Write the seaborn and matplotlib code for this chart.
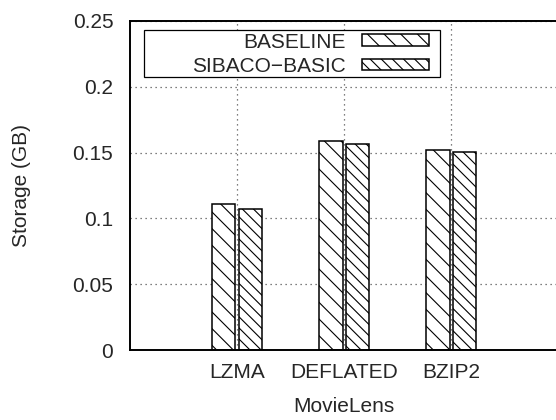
import matplotlib
matplotlib.use("Agg")
import matplotlib.pyplot as plt
from matplotlib.patches import Rectangle
import seaborn as sns
import pandas as pd
import numpy as np

categories = ["LZMA", "DEFLATED", "BZIP2"]
series = ["BASELINE", "SIBACO\u2212BASIC"]
baseline = [0.1112, 0.1586, 0.1517]
sibaco = [0.1069, 0.1568, 0.1507]
yticks = [0, 0.05, 0.1, 0.15, 0.2, 0.25]
ytick_labels = ["0", "0.05", "0.1", "0.15", "0.2", "0.25"]
hatches = ["\\\\", "\\\\\\"]

sns.set_style("white")
plt.rcParams["font.family"] = ["Liberation Sans", "DejaVu Sans"]
plt.rcParams["hatch.linewidth"] = 0.8

FS = 15

df = pd.DataFrame({
    "cat": categories * 2,
    "series": [series[0]] * 3 + [series[1]] * 3,
    "value": baseline + sibaco,
})

W, H = 556, 420
fig = plt.figure(figsize=(W / 100, H / 100), dpi=100)
ax_l, ax_r, ax_t, ax_b = 130, 558.5, 21, 350
ax = fig.add_axes([ax_l / W, (H - ax_b) / H, (ax_r - ax_l) / W, (ax_b - ax_t) / H])

sns.barplot(data=df, x="cat", y="value", hue="series", order=categories,
            hue_order=series, palette=["white", "white"], edgecolor="black",
            linewidth=1.1, width=0.5, gap=0.13, legend=False, ax=ax,
            saturation=1, errorbar=None)

for cont, h in zip(ax.containers, hatches):
    for bar in cont:
        bar.set_hatch(h)

ax.set_xlim(-1, 3)
ax.set_ylim(0, 0.25)
ax.set_yticks(yticks)
ax.set_yticklabels(ytick_labels)
ax.tick_params(axis="both", length=0, labelsize=FS)
ax.tick_params(axis="y", pad=12)
ax.tick_params(axis="x", pad=9)

ax.set_axisbelow(True)
ax.grid(True, linestyle=(0, (1, 3)), color="#555555", linewidth=0.9)

for s in ["left", "bottom", "top"]:
    ax.spines[s].set_visible(True)
    ax.spines[s].set_color("black")
    ax.spines[s].set_linewidth(1.4)
ax.spines["right"].set_visible(False)

ax.set_ylabel("Storage (GB)", fontsize=FS)
ax.set_xlabel("MovieLens", fontsize=FS)
ax.yaxis.set_label_coords((31 - ax_l) / (ax_r - ax_l), 0.5)
ax.xaxis.set_label_coords(0.5, -(397 - ax_b) / (ax_b - ax_t))


def px2ax(x, y):
    return ((x - ax_l) / (ax_r - ax_l), (ax_b - y) / (ax_b - ax_t))


# legend box
bx0, by0 = px2ax(144, 77)
bx1, by1 = px2ax(440, 30)
ax.add_patch(Rectangle((bx0, by0), bx1 - bx0, by1 - by0, transform=ax.transAxes,
                       facecolor="white", edgecolor="black", linewidth=0.9,
                       zorder=4, clip_on=False))

em = FS * 100 / 72
ax_anchor = px2ax(429, 32.5)
leg = ax.legend(ax.containers, series, loc="upper right",
                bbox_to_anchor=ax_anchor, borderaxespad=0,
                fontsize=FS, markerfirst=False, frameon=False,
                handlelength=67 / em, handleheight=0.5, handletextpad=16 / em,
                borderpad=0, labelspacing=0.26)
leg.set_zorder(5)
for t in leg.get_texts():
    t.set_ha("right")

fig.savefig("out.png", dpi=100)
